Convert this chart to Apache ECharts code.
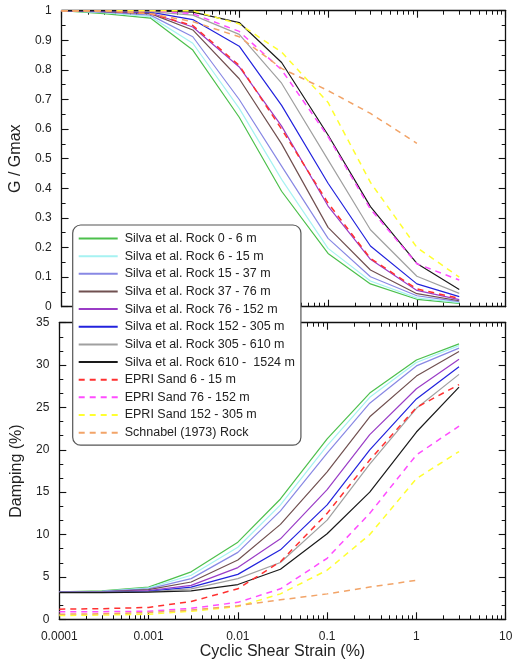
<!DOCTYPE html>
<html>
<head>
<meta charset="utf-8">
<script src="https://cdn.jsdelivr.net/npm/echarts@6/dist/echarts.min.js"></script>
<style>
html,body{margin:0;padding:0;background:#fff;}
#chart{width:522px;height:668px;}
</style>
</head>
<body>
<div id="chart"></div>
<script>
// ---- data ----
const strain = [0.0001, 0.0003, 0.001, 0.003, 0.01, 0.03, 0.1, 0.3, 1, 3];
const strainSchnabel = [0.0001, 0.0003, 0.001, 0.003, 0.01, 0.03, 0.1, 0.3, 1];

const seriesNames = [
  'Silva et al. Rock 0 - 6 m',
  'Silva et al. Rock 6 - 15 m',
  'Silva et al. Rock 15 - 37 m',
  'Silva et al. Rock 37 - 76 m',
  'Silva et al. Rock 76 - 152 m',
  'Silva et al. Rock 152 - 305 m',
  'Silva et al. Rock 305 - 610 m',
  'Silva et al. Rock 610 -  1524 m',
  'EPRI Sand 6 - 15 m',
  'EPRI Sand 76 - 152 m',
  'EPRI Sand 152 - 305 m',
  'Schnabel (1973) Rock'
];

// G/Gmax
const gSilva0_6      = [1, 0.99, 0.975, 0.867, 0.64, 0.39, 0.18, 0.077, 0.025, 0.011];
const gSilva6_15     = [1, 0.993, 0.98, 0.89, 0.67, 0.43, 0.197, 0.087, 0.03, 0.014];
const gSilva15_37    = [1, 0.995, 0.985, 0.912, 0.70, 0.475, 0.231, 0.101, 0.037, 0.017];
const gSilva37_76    = [1, 0.997, 0.99, 0.935, 0.77, 0.55, 0.268, 0.124, 0.044, 0.02];
const gSilva76_152   = [1, 0.998, 0.993, 0.945, 0.81, 0.61, 0.34, 0.16, 0.055, 0.024];
const gSilva152_305  = [1, 0.999, 0.995, 0.97, 0.88, 0.68, 0.417, 0.205, 0.077, 0.034];
const gSilva305_610  = [1, 1, 0.997, 0.985, 0.92, 0.755, 0.496, 0.26, 0.103, 0.045];
const gSilva610_1524 = [1, 1, 1, 0.995, 0.96, 0.825, 0.58, 0.338, 0.146, 0.058];
const gEpri6_15      = [1, 1, 0.99, 0.95, 0.815, 0.60, 0.35, 0.163, 0.06, 0.028];
const gEpri76_152    = [1, 1, 1, 0.99, 0.93, 0.80, 0.575, 0.33, 0.145, 0.09];
const gEpri152_305   = [1, 1, 1, 1, 0.955, 0.86, 0.69, 0.42, 0.2, 0.1];
const gSchnabel      = [1, 1, 0.99, 0.963, 0.912, 0.805, 0.73, 0.653, 0.552];

// Damping (%)
const dSilva0_6      = [3.25, 3.35, 3.8, 5.6, 9.1, 14.2, 21.3, 26.7, 30.6, 32.5];
const dSilva6_15     = [3.2, 3.3, 3.7, 5.2, 8.5, 13.5, 20.5, 26.2, 30.3, 32.3];
const dSilva15_37    = [3.2, 3.3, 3.6, 4.8, 7.9, 12.8, 19.6, 25.5, 29.9, 32.0];
const dSilva37_76    = [3.2, 3.25, 3.5, 4.4, 7.0, 11.2, 17.4, 23.9, 28.7, 31.6];
const dSilva76_152   = [3.2, 3.25, 3.4, 4.0, 6.1, 9.5, 15.3, 21.8, 27.2, 30.7];
const dSilva152_305  = [3.2, 3.2, 3.3, 3.8, 5.3, 8.2, 13.5, 20.0, 26.0, 29.8];
const dSilva305_610  = [3.2, 3.2, 3.25, 3.6, 4.8, 6.7, 11.7, 18.3, 24.9, 28.9];
const dSilva610_1524 = [3.15, 3.15, 3.2, 3.35, 4.1, 5.9, 10.1, 15.0, 22.1, 27.4];
const dEpri6_15      = [1.2, 1.25, 1.4, 2.1, 3.6, 6.8, 12.5, 18.8, 25.0, 27.7];
const dEpri76_152    = [0.9, 0.9, 0.95, 1.3, 2.0, 3.6, 7.2, 12.5, 19.4, 22.8];
const dEpri152_305   = [0.45, 0.5, 0.6, 0.95, 1.5, 3.0, 5.8, 10.0, 16.6, 19.8];
const dSchnabel      = [0.6, 0.65, 0.8, 1.1, 1.6, 2.3, 3.0, 3.8, 4.6];

const xMajorLabels = [0.0001, 0.001, 0.01, 0.1, 1, 10];
const xMinorMultipliers = [2, 3, 4, 5, 6, 7, 8, 9];

// ---- styles ----
const colors = ['#4cc04c', '#a6f2f2', '#8888e4', '#705050', '#9a3cc6', '#2222dd', '#a0a0a0', '#1a1a1a',
                '#ff3030', '#ff4cff', '#ffff30', '#f2a468'];
const dashed = [false, false, false, false, false, false, false, false, true, true, true, true];

const gData = [gSilva0_6, gSilva6_15, gSilva15_37, gSilva37_76, gSilva76_152, gSilva152_305, gSilva305_610, gSilva610_1524,
               gEpri6_15, gEpri76_152, gEpri152_305, gSchnabel];
const dData = [dSilva0_6, dSilva6_15, dSilva15_37, dSilva37_76, dSilva76_152, dSilva152_305, dSilva305_610, dSilva610_1524,
               dEpri6_15, dEpri76_152, dEpri152_305, dSchnabel];

function pairs(xs, ys) { return ys.map((y, i) => [xs[i], y]); }

const FONT = 'Liberation Sans, Arial, sans-serif';
const TXT = '#222';

const minorLog = [];
for (let d = -4; d <= 0; d++) {
  xMinorMultipliers.forEach(m => minorLog.push(Math.log10(m) + d));
}

const GL = 59.3, GW = 446.4;
const grids = [
  { left: GL, top: 10.7, width: GW, height: 296 },
  { left: GL, top: 322.7, width: GW, height: 296.6 }
];

function logAxis(gi, pos, labels) {
  return {
    type: 'log', logBase: 10, min: 0.0001, max: 10, gridIndex: gi, position: pos,
    axisLine: { show: true, onZero: false, lineStyle: { color: '#111', width: 1.3 } },
    axisTick: { show: true, inside: true, length: 7, lineStyle: { color: '#111', width: 1.1 } },
    axisLabel: {
      show: labels, margin: 11, fontSize: 12, fontFamily: FONT, color: TXT,
      formatter: v => String(+(+v).toPrecision(1))
    },
    splitLine: { show: false },
    minorTick: { show: false }
  };
}
function minorAxis(gi, pos) {
  return {
    type: 'value', min: -4, max: 1, gridIndex: gi, position: pos,
    axisLine: { show: false, onZero: false },
    axisTick: { show: true, inside: true, length: 4, customValues: minorLog, lineStyle: { color: '#111', width: 1 } },
    axisLabel: { show: false },
    splitLine: { show: false }
  };
}
function yAxis(gi, pos, min, max, interval, minorSplit, labels, name) {
  return {
    type: 'value', gridIndex: gi, position: pos, min: min, max: max, interval: interval,
    name: name || '', nameLocation: 'middle', nameGap: 27,
    nameTextStyle: { fontSize: 16, fontFamily: FONT, color: TXT },
    axisLine: { show: true, onZero: false, lineStyle: { color: '#111', width: 1.3 } },
    axisTick: { show: true, inside: true, length: 7, lineStyle: { color: '#111', width: 1.1 } },
    minorTick: { show: true, splitNumber: minorSplit, length: 4, lineStyle: { color: '#111', width: 1 } },
    axisLabel: { show: labels, margin: 10, fontSize: 12, fontFamily: FONT, color: TXT },
    splitLine: { show: false }
  };
}

const xAxes = [
  logAxis(0, 'bottom', false),   // 0
  logAxis(0, 'top', false),      // 1
  minorAxis(0, 'bottom'),        // 2
  minorAxis(0, 'top'),           // 3
  Object.assign(logAxis(1, 'bottom', true), {
    name: 'Cyclic Shear Strain (%)', nameLocation: 'middle', nameGap: 22,
    nameTextStyle: { fontSize: 16, fontFamily: FONT, color: TXT }
  }),                            // 4
  logAxis(1, 'top', false),      // 5
  minorAxis(1, 'bottom'),        // 6
  minorAxis(1, 'top')            // 7
];
const yAxes = [
  yAxis(0, 'left', 0, 1, 0.1, 2, true, 'G / Gmax'),   // 0
  yAxis(0, 'right', 0, 1, 0.1, 2, false),             // 1
  yAxis(1, 'left', 0, 35, 5, 3, true, 'Damping (%)'), // 2
  yAxis(1, 'right', 0, 35, 5, 3, false)               // 3
];

const series = [];
seriesNames.forEach((name, i) => {
  const xs = (i === 11) ? strainSchnabel : strain;
  const ls = { color: colors[i], width: dashed[i] ? 1.5 : 1.2, type: dashed[i] ? [6, 5] : 'solid' };
  series.push({
    name: name, type: 'line', xAxisIndex: 0, yAxisIndex: 0, data: pairs(xs, gData[i]),
    symbol: 'none', lineStyle: ls, itemStyle: { color: colors[i] }, silent: true, animation: false
  });
  series.push({
    name: name, type: 'line', xAxisIndex: 4, yAxisIndex: 2, data: pairs(xs, dData[i]),
    symbol: 'none', lineStyle: ls, itemStyle: { color: colors[i] }, silent: true, animation: false
  });
});

const chart = echarts.init(document.getElementById('chart'), null, { renderer: 'canvas' });
chart.setOption({
  animation: false,
  backgroundColor: '#fff',
  grid: grids,
  xAxis: xAxes,
  yAxis: yAxes,
  legend: {
    data: seriesNames,
    orient: 'vertical',
    left: 72.7, top: 225,
    backgroundColor: '#fff',
    borderColor: '#555', borderWidth: 1.2, borderRadius: 8,
    padding: [7, 6, 6, 5],
    itemWidth: 39, itemHeight: 14, itemGap: 4.65,
    selectedMode: false,
    itemStyle: { opacity: 0 },
    textStyle: { fontSize: 12.5, fontFamily: FONT, color: TXT, padding: [0, 0, 0, 2] },
    z: 10
  },
  series: series
});
</script>
</body>
</html>
